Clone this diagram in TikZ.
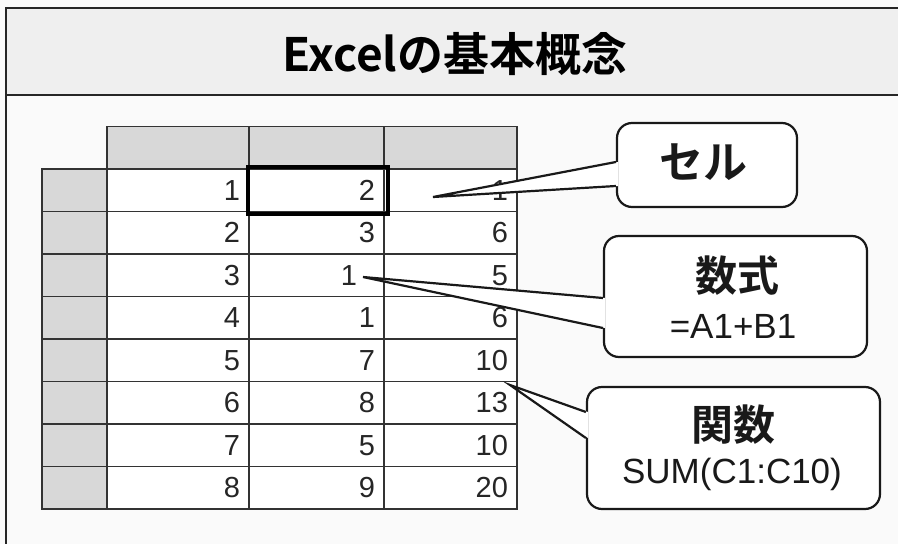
\documentclass[tikz,border=0pt]{standalone}
\usepackage{fontspec}
\setmainfont{Liberation Sans}
\newfontfamily\jpfont{Noto Sans CJK JP}[BoldFont=* Bold]
\usetikzlibrary{calc}
\definecolor{bgcol}{HTML}{FAFAFA}
\definecolor{titlefill}{HTML}{EFEFEF}
\definecolor{hdrfill}{HTML}{D8D8D8}
\tikzset{
  frameline/.style={line width=2.5pt, draw=black!85},
  hdrcell/.style={draw=black!80, line width=1.1pt, fill=hdrfill, minimum height=42.5pt, inner sep=0pt},
  cellbox/.style={draw=black!80, line width=1.1pt, fill=white, minimum height=42.5pt, inner xsep=9pt, inner ysep=0pt, align=right, font=\fontsize{29}{29}\selectfont, text=black!85},
  selbox/.style={draw=black, line width=4pt, inner sep=0pt},
  callbox/.style={draw=black!90, line width=2.2pt, fill=white, rounded corners=15pt, inner sep=0pt},
  pointer/.style={line width=2.2pt, draw=black!90, line join=miter},
  calltext/.style={font=\jpfont\bfseries\fontsize{42}{42}\selectfont, text=black!90, inner sep=0pt},
  callsub/.style={font=\fontsize{35}{35}\selectfont, text=black!90, inner sep=0pt},
}
\begin{document}
\begin{tikzpicture}[x=1pt,y=-1pt]
\fill[bgcol] (0,0) rectangle (898,544);
\useasboundingbox (0,0) rectangle (898,544);
% title bar
\fill[titlefill] (6,8) rectangle (898,95);
\draw[frameline] (898,8) -- (6,8) -- (6,544);
\draw[frameline] (6,95) -- (898,95);
\node[font=\jpfont\bfseries\fontsize{46}{46}\selectfont, inner sep=0pt] (title) at (455,54) {Excelの基本概念};
% header row
\node[hdrcell, minimum width=142pt] (hA) at (178,148) {};
\node[hdrcell, minimum width=135pt] (hB) at (316.5,148) {};
\node[hdrcell, minimum width=133pt] (hC) at (450.5,148) {};
% data rows
\foreach \r/\a/\b/\c in {1/1/2/1,2/2/3/6,3/3/{1\hspace*{18pt}}/5,4/4/1/6,5/5/7/10,6/6/8/13,7/7/5/10,8/8/9/20}{
  \pgfmathsetmacro{\yy}{169+42.5*(\r-1)+21.25}
  \node[hdrcell, minimum width=65pt] (rh\r) at (74.5,\yy) {};
  \node[cellbox, text width=124pt] (a\r) at (178,\yy) {\a};
  \node[cellbox, text width=117pt] (b\r) at (316.5,\yy) {\b};
  \node[cellbox, text width=115pt] (c\r) at (450.5,\yy) {\c};
}
% selected cell
\node[selbox, minimum width=140pt, minimum height=47pt] (sel) at (317.5,190.5) {};
% callout: cell
\node[callbox, minimum width=180pt, minimum height=84pt] (cbox) at (707,165) {};
\coordinate (ctip) at (433,197);
\fill[white] ($(cbox.west)+(2,-3)$) -- (ctip) -- ($(cbox.west)+(2,21)$) -- cycle;
\draw[pointer] ($(cbox.west)+(0,-3)$) -- (ctip) -- ($(cbox.west)+(0,21)$);
\node[calltext, font=\jpfont\bfseries\fontsize{44}{44}\selectfont] (ctext) at (703,162) {セル};
% callout: formula
\node[callbox, minimum width=263pt, minimum height=121pt] (fbox) at (735.5,296.5) {};
\coordinate (ftip) at (363,277);
\fill[white] ($(fbox.west)+(2,1.5)$) -- (ftip) -- ($(fbox.west)+(2,31.5)$) -- cycle;
\draw[pointer] ($(fbox.west)+(0,1.5)$) -- (ftip) -- ($(fbox.west)+(0,31.5)$);
\node[calltext] (ftext) at (737,276) {数式};
\node[callsub] (fsub) at (733,326) {=A1+B1};
% callout: function
\node[callbox, minimum width=293pt, minimum height=122pt] (sbox) at (733.5,448) {};
\coordinate (stip) at (510,385);
\fill[white] ($(sbox.west)+(2,-36)$) -- (stip) -- ($(sbox.west)+(2,-10)$) -- cycle;
\draw[pointer] ($(sbox.west)+(0,-36)$) -- (stip) -- ($(sbox.west)+(0,-10)$);
\node[calltext] (stext) at (733,425) {関数};
\node[callsub] (ssub) at (732,474) {SUM(C1:C10)};
\end{tikzpicture}
\end{document}
